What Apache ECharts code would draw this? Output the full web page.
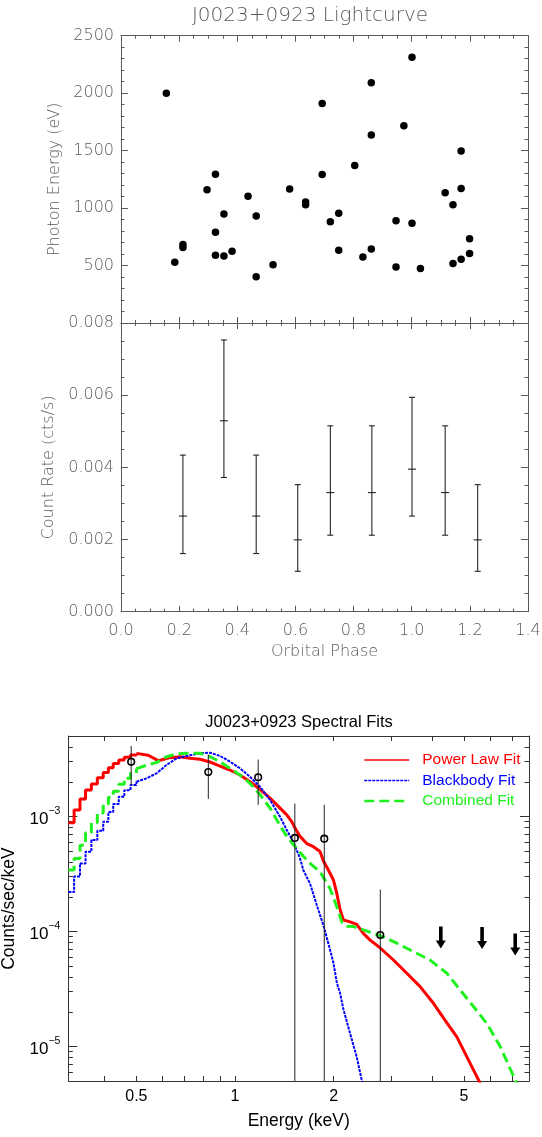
<!DOCTYPE html>
<html><head><meta charset="utf-8">
<script src="https://cdn.jsdelivr.net/npm/echarts@6/dist/echarts.min.js"></script>
<style>html,body{margin:0;padding:0;background:#fff}#c{width:542px;height:1137px}</style>
</head><body><div id="c"></div>
<script>
// ---------- Lightcurve: photon arrival phase / energy ----------
const photonPhase = [0.156,0.185,0.213,0.213,0.296,0.325,0.325,0.325,0.354,0.354,0.382,0.437,0.465,0.465,0.523,0.580,0.635,0.635,0.692,0.692,0.720,0.749,0.749,0.804,0.832,0.861,0.861,0.861,0.946,0.946,0.973,1.001,1.001,1.030,1.115,1.142,1.142,1.170,1.170,1.170,1.199,1.199];
const photonEnergy = [2000,529,682,656,1159,1295,789,590,948,584,624,1104,931,402,506,1165,1052,1029,1910,1292,881,954,633,1370,575,2090,1636,645,890,488,1717,2312,867,474,1133,1029,517,1497,1171,555,734,604];

// ---------- Count rate vs phase ----------
const ratePhase = [0.213,0.354,0.465,0.608,0.720,0.863,1.001,1.115,1.227];
const rateValue = [0.00265,0.00529,0.00265,0.00199,0.00330,0.00330,0.00395,0.00330,0.00199];
const rateLow   = [0.00161,0.00372,0.00161,0.00112,0.00212,0.00212,0.00265,0.00212,0.00112];
const rateHigh  = [0.00434,0.00753,0.00434,0.00352,0.00515,0.00515,0.00594,0.00515,0.00352];

// ---------- Spectral fits (E keV, counts/sec/keV) ----------
const powerLawSteps = [[0.31,8.81e-4],[0.3227,1.135e-3],[0.3363,1.415e-3],[0.3497,1.694e-3],[0.3643,1.91e-3],[0.3799,2.169e-3],[0.3960,2.413e-3],[0.4106,2.651e-3],[0.4248,2.89e-3],[0.4417,3.09e-3],[0.4592,3.26e-3],[0.4797,3.414e-3],[0.5,3.53e-3]];
const powerLawSmooth = [[0.5,3.53e-3],[0.507,3.54e-3],[0.543,3.40e-3],[0.583,3.05e-3],[0.633,3.24e-3],[0.679,3.30e-3],[0.729,3.20e-3],[0.782,3.14e-3],[0.839,2.97e-3],[0.900,2.74e-3],[0.965,2.53e-3],[1.036,2.29e-3],[1.111,2.00e-3],[1.192,1.72e-3],[1.279,1.44e-3],[1.373,1.18e-3],[1.439,1.03e-3],[1.490,9.0e-4],[1.525,7.9e-4],[1.580,6.7e-4],[1.656,5.8e-4],[1.735,5.45e-4],[1.818,4.95e-4],[1.862,4.1e-4],[1.928,3.42e-4],[1.998,2.8e-4],[2.045,2.14e-4],[2.093,1.55e-4],[2.143,1.26e-4],[2.245,1.21e-4],[2.353,1.15e-4],[2.466,9.6e-5],[2.585,8.4e-5],[2.773,7.2e-5],[3.046,5.64e-5],[3.346,4.32e-5],[3.674,3.31e-5],[4.036,2.37e-5],[4.435,1.6e-5],[4.757,1.21e-5],[5.105,8.1e-6],[5.54,5.1e-6],[5.7,4.3e-6]];
const blackbodySteps = [[0.31,2.2e-4],[0.3227,3.0e-4],[0.3363,3.9e-4],[0.3497,4.93e-4],[0.3643,6.22e-4],[0.3799,7.5e-4],[0.3960,9.0e-4],[0.4106,1.09e-3],[0.4248,1.28e-3],[0.4417,1.48e-3],[0.4592,1.69e-3],[0.4797,1.87e-3],[0.5,2.0e-3]];
const blackbodySmooth = [[0.5,2.0e-3],[0.537,2.14e-3],[0.5765,2.37e-3],[0.618,2.80e-3],[0.664,3.20e-3],[0.712,3.35e-3],[0.782,3.54e-3],[0.839,3.58e-3],[0.900,3.35e-3],[0.965,2.99e-3],[1.036,2.62e-3],[1.111,2.21e-3],[1.192,1.81e-3],[1.279,1.39e-3],[1.373,9.9e-4],[1.439,7.6e-4],[1.507,6.0e-4],[1.580,4.3e-4],[1.617,3.4e-4],[1.695,2.6e-4],[1.776,1.7e-4],[1.862,1.13e-4],[1.951,6.9e-5],[1.998,5.3e-5],[2.045,3.6e-5],[2.093,2.9e-5],[2.143,2.1e-5],[2.245,1.3e-5],[2.353,8.1e-6],[2.437,5.1e-6],[2.48,4.3e-6]];
const combinedSteps = [[0.31,3.42e-4],[0.3227,4.3e-4],[0.3363,5.6e-4],[0.3497,7.2e-4],[0.3643,8.8e-4],[0.3799,1.07e-3],[0.3960,1.28e-3],[0.4106,1.47e-3],[0.4248,1.65e-3],[0.4417,1.9e-3],[0.4592,2.15e-3],[0.4797,2.38e-3],[0.5,2.6e-3]];
const combinedSmooth = [[0.5,2.6e-3],[0.537,2.78e-3],[0.577,2.95e-3],[0.618,3.30e-3],[0.664,3.49e-3],[0.712,3.54e-3],[0.782,3.54e-3],[0.839,3.30e-3],[0.900,2.99e-3],[0.965,2.62e-3],[1.036,2.29e-3],[1.111,1.94e-3],[1.192,1.55e-3],[1.279,1.18e-3],[1.373,8.3e-4],[1.439,6.7e-4],[1.525,5.46e-4],[1.617,4.5e-4],[1.695,3.91e-4],[1.818,3.3e-4],[1.951,2.35e-4],[2.045,1.64e-4],[2.118,1.21e-4],[2.194,1.11e-4],[2.300,1.10e-4],[2.466,1.03e-4],[2.773,9.2e-5],[3.117,7.9e-5],[3.508,6.66e-5],[3.943,5.63e-5],[4.435,4.32e-5],[4.87,3.09e-5],[5.355,2.21e-5],[5.875,1.58e-5],[6.45,1.0e-5],[7.17,5.1e-6],[7.3,4.5e-6]];

const specE    = [0.482,0.829,1.177,1.523,1.873,2.777];
const specC    = [2.98e-3,2.43e-3,2.19e-3,6.5e-4,6.4e-4,9.3e-5];
const specLow  = [1.9e-3,1.42e-3,1.26e-3,1e-7,1e-7,1e-7];
const specHigh = [4.1e-3,3.45e-3,3.12e-3,1.29e-3,1.26e-3,2.31e-4];
const limitE = [4.25,5.68,7.17];
const limitC = [1.1e-4,1.09e-4,9.6e-5];

// ---------- tick labels ----------
const energyLabelValues = [0.5,1,2,5];
const energyTickValues = [0.4,0.5,0.6,0.7,0.8,0.9,1,2,3,4,5,6,7];
const countMajor = [1e-5,1e-4,1e-3];
const countMinor = [6e-6,7e-6,8e-6,9e-6,2e-5,3e-5,4e-5,5e-5,6e-5,7e-5,8e-5,9e-5,2e-4,3e-4,4e-4,5e-4,6e-4,7e-4,8e-4,9e-4,2e-3,3e-3,4e-3];

// ---------- styles ----------
const lightFont = 'DejaVu Sans';
const gray = '#5a5a5a';
const frame = '#5a5a5a';
const dark = '#333';
const sansFont = 'Liberation Sans';

function phaseAxis(gridIndex, position, showLabels) {
  return {
    type: 'value', gridIndex, position, min: 0, max: 1.4, interval: 0.2,
    axisLine: {show: true, onZero: false, lineStyle: {color: frame, width: 1}},
    axisTick: {show: true, inside: true, length: 6, lineStyle: {color: frame}},
    minorTick: {show: true, splitNumber: 4, length: 3, lineStyle: {color: frame}},
    splitLine: {show: false}, minorSplitLine: {show: false},
    axisLabel: {show: showLabels, margin: 11, color: gray, fontFamily: lightFont, fontWeight: 200, fontSize: 16,
      showMinLabel: true, showMaxLabel: true, formatter: v => Number(v).toFixed(1)},
    name: showLabels && position === 'bottom' ? 'Orbital Phase' : '',
    nameLocation: 'middle', nameGap: 32,
    nameTextStyle: {color: gray, fontFamily: lightFont, fontWeight: 200, fontSize: 16}
  };
}
function valAxis(gridIndex, position, min, max, interval, split, showLabels, fmt, name, nameGap, showMin) {
  return {
    type: 'value', gridIndex, position, min, max, interval,
    axisLine: {show: true, onZero: false, lineStyle: {color: frame, width: 1}},
    axisTick: {show: true, inside: true, length: 7, lineStyle: {color: frame}},
    minorTick: {show: true, splitNumber: split, length: 3.5, lineStyle: {color: frame}},
    splitLine: {show: false}, minorSplitLine: {show: false},
    axisLabel: {show: showLabels, margin: 7, color: gray, fontFamily: lightFont, fontWeight: 200, fontSize: 16,
      showMinLabel: showMin, showMaxLabel: true, formatter: fmt},
    name: name || '', nameLocation: 'middle', nameGap: nameGap || 0,
    nameTextStyle: {color: gray, fontFamily: lightFont, fontWeight: 200, fontSize: 16}
  };
}
function energyAxis(position, showLabels) {
  return {
    type: 'log', gridIndex: 2, position, min: 0.31, max: 7.9,
    axisLine: {show: true, onZero: false, lineStyle: {color: dark, width: 1}},
    axisTick: {show: true, inside: true, length: 5, customValues: energyTickValues, lineStyle: {color: dark}},
    splitLine: {show: false},
    axisLabel: {show: showLabels, customValues: energyLabelValues, margin: 8, color: '#000', fontFamily: sansFont, fontSize: 16,
      formatter: v => String(+Number(v).toPrecision(3))},
    name: showLabels ? 'Energy (keV)' : '', nameLocation: 'middle', nameGap: 31,
    nameTextStyle: {color: '#000', fontFamily: sansFont, fontSize: 17.5}
  };
}
function countAxis(position, major, showLabels, showLine) {
  return {
    type: 'log', gridIndex: 2, position, min: 5e-6, max: 5e-3,
    axisLine: {show: showLine, onZero: false, lineStyle: {color: dark, width: 1}},
    axisTick: {show: true, inside: true, length: major ? 9 : 4.5, customValues: major ? countMajor : countMinor, lineStyle: {color: dark}},
    splitLine: {show: false},
    axisLabel: {show: showLabels, customValues: countMajor, margin: 8, color: '#000',
      formatter: v => '{b|10}{s|' + String(Math.round(Math.log10(v))).replace('-', '\u2212') + '}',
      rich: {b: {fontFamily: sansFont, fontSize: 17, color: '#000', lineHeight: 22, verticalAlign: 'bottom'},
             s: {fontFamily: sansFont, fontSize: 10.5, color: '#000', lineHeight: 22, verticalAlign: 'top'}}},
    name: showLabels ? 'Counts/sec/keV' : '', nameLocation: 'middle', nameGap: 40,
    nameTextStyle: {color: '#000', fontFamily: sansFont, fontSize: 17.5}
  };
}

const photonData = photonPhase.map((p, i) => [p, photonEnergy[i]]);
const rateData = ratePhase.map((p, i) => [p, rateValue[i], rateLow[i], rateHigh[i]]);
const specData = specE.map((e, i) => [e, specC[i], specLow[i], specHigh[i]]);
const limitData = limitE.map((e, i) => [e, limitC[i]]);

const RED = '#ff0000', BLUE = '#0000ff', GREEN = '#1ff01f';
function fitLine(name, data, color, width, type, step) {
  return {type: 'line', name, xAxisIndex: 4, yAxisIndex: 4, data, step: step ? 'end' : false,
    symbol: 'none', showSymbol: false, smooth: false, animation: false, silent: true,
    lineStyle: {color, width, type, cap: 'butt'}, itemStyle: {color}, emphasis: {disabled: true}};
}

const option = {
  animation: false,
  backgroundColor: '#fff',
  grid: [
    {left: 121, right: 14, top: 35.7, height: 287.3, outerBoundsMode: 'none', containLabel: false},
    {left: 121, right: 14, top: 323, height: 288.7, outerBoundsMode: 'none', containLabel: false},
    {left: 68.4, right: 13, top: 736, height: 345, outerBoundsMode: 'none', containLabel: false}
  ],
  graphic: [
    {type: 'text', x: 310, y: 16, style: {text: 'J0023+0923 Lightcurve', fill: gray, fontFamily: lightFont, fontWeight: 200, fontSize: 20,
      align: 'center', verticalAlign: 'middle', textAlign: 'center', textVerticalAlign: 'middle'}},
    {type: 'text', x: 299, y: 722.7, style: {text: 'J0023+0923 Spectral Fits', fill: '#000', fontFamily: sansFont, fontSize: 16.5,
      align: 'center', verticalAlign: 'middle', textAlign: 'center', textVerticalAlign: 'middle'}}
  ],
  legend: {
    orient: 'vertical', left: 358, top: 747, itemWidth: 45, itemHeight: 12, itemGap: 4.5,
    selectedMode: false,
    data: [
      {name: 'Power Law Fit', textStyle: {color: RED}, lineStyle: {width: 1.5}, itemStyle: {opacity: 0}},
      {name: 'Blackbody Fit', textStyle: {color: BLUE}, lineStyle: {width: 1.5}, itemStyle: {opacity: 0}},
      {name: 'Combined Fit', textStyle: {color: GREEN}, lineStyle: {width: 2.5}, itemStyle: {opacity: 0}}
    ],
    textStyle: {fontFamily: sansFont, fontSize: 15.5, padding: [0, 0, 0, 8]}
  },
  xAxis: [
    phaseAxis(0, 'bottom', false),
    phaseAxis(0, 'top', false),
    phaseAxis(1, 'bottom', true),
    phaseAxis(1, 'top', false),
    energyAxis('bottom', true),
    energyAxis('top', false)
  ],
  yAxis: [
    valAxis(0, 'left', 0, 2500, 500, 5, true, v => String(v), 'Photon Energy (eV)', 58, false),
    valAxis(0, 'right', 0, 2500, 500, 5, false, null, '', 0, false),
    valAxis(1, 'left', 0, 0.008, 0.002, 4, true, v => Number(v).toFixed(3), 'Count Rate (cts/s)', 64, true),
    valAxis(1, 'right', 0, 0.008, 0.002, 4, false, null, '', 0, true),
    countAxis('left', true, true, true),
    countAxis('left', false, false, false),
    countAxis('right', true, false, true),
    countAxis('right', false, false, false)
  ],
  series: [
    {type: 'scatter', xAxisIndex: 0, yAxisIndex: 0, data: photonData, symbol: 'circle', symbolSize: 7.5,
      itemStyle: {color: '#000', opacity: 1}, silent: true},
    {type: 'custom', xAxisIndex: 2, yAxisIndex: 2, data: rateData, silent: true,
      renderItem(params, api) {
        const x = api.value(0);
        const c = api.coord([x, api.value(1)]), lo = api.coord([x, api.value(2)]), hi = api.coord([x, api.value(3)]);
        const st = {stroke: '#111', lineWidth: 1};
        return {type: 'group', children: [
          {type: 'line', shape: {x1: lo[0], y1: lo[1], x2: hi[0], y2: hi[1]}, style: st},
          {type: 'line', shape: {x1: lo[0] - 3, y1: lo[1], x2: lo[0] + 3, y2: lo[1]}, style: st},
          {type: 'line', shape: {x1: hi[0] - 3, y1: hi[1], x2: hi[0] + 3, y2: hi[1]}, style: st},
          {type: 'line', shape: {x1: c[0] - 4, y1: c[1], x2: c[0] + 4, y2: c[1]}, style: st}
        ]};
      }},
    fitLine('Power Law Fit', powerLawSteps, RED, 3, 'solid', true),
    fitLine('Power Law Fit', powerLawSmooth, RED, 3, 'solid', false),
    fitLine('Blackbody Fit', blackbodySteps, BLUE, 2, [3, 1], true),
    fitLine('Blackbody Fit', blackbodySmooth, BLUE, 2, [3, 1], false),
    fitLine('Combined Fit', combinedSteps, GREEN, 3, [10, 5], true),
    fitLine('Combined Fit', combinedSmooth, GREEN, 3, [10, 5], false),
    {type: 'custom', xAxisIndex: 4, yAxisIndex: 4, data: specData, silent: true, clip: true, z: 5,
      renderItem(params, api) {
        const x = api.value(0);
        const c = api.coord([x, api.value(1)]), lo = api.coord([x, api.value(2)]), hi = api.coord([x, api.value(3)]);
        return {type: 'group', children: [
          {type: 'line', shape: {x1: lo[0], y1: lo[1], x2: hi[0], y2: hi[1]}, style: {stroke: '#222', lineWidth: 1}},
          {type: 'circle', shape: {cx: c[0], cy: c[1], r: 3.3}, style: {fill: 'none', stroke: '#000', lineWidth: 1.6}}
        ]};
      }},
    {type: 'custom', xAxisIndex: 4, yAxisIndex: 4, data: limitData, silent: true, z: 5,
      renderItem(params, api) {
        const p = api.coord([api.value(0), api.value(1)]);
        const sw = 1.8, hw = 5, L = 22, hl = 8;
        return {type: 'polygon', shape: {points: [
          [p[0] - sw, p[1]], [p[0] + sw, p[1]], [p[0] + sw, p[1] + L - hl], [p[0] + hw, p[1] + L - hl],
          [p[0], p[1] + L], [p[0] - hw, p[1] + L - hl], [p[0] - sw, p[1] + L - hl]]},
          style: {fill: '#000'}};
      }}
  ]
};
const chart = echarts.init(document.getElementById('c'));
chart.setOption(option);
</script>
</body></html>
